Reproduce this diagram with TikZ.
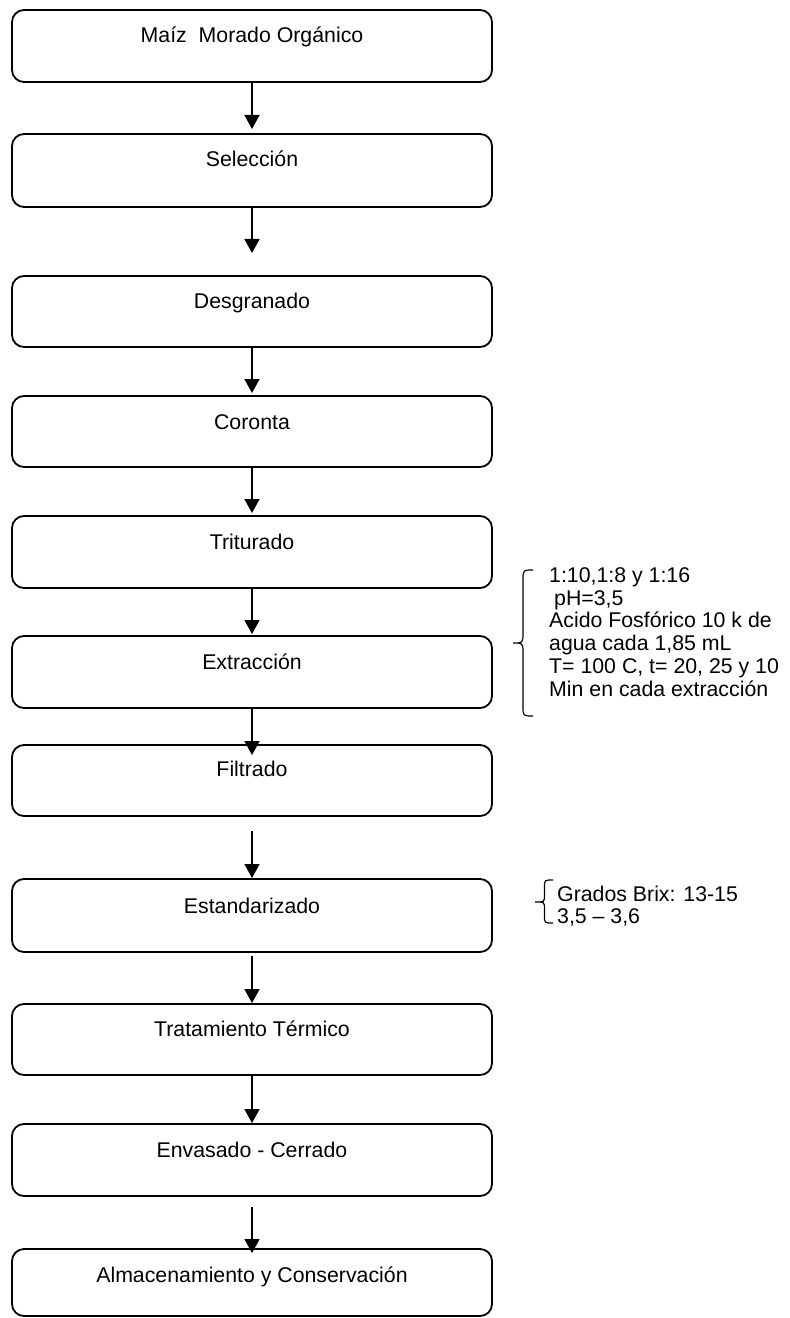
\documentclass[tikz,border=0pt]{standalone}
\usepackage{fontspec}
\setmainfont{Liberation Sans}
\usetikzlibrary{arrows.meta}
\begin{document}
\begin{tikzpicture}[x=1bp,y=-1bp,
  box/.style={draw, line width=1.8bp, rounded corners=12bp, minimum width=480bp, minimum height=72bp, inner sep=0pt, outer sep=0pt},
  lbl/.style={anchor=base, inner sep=0pt, font=\fontsize{21.3bp}{22.7bp}\selectfont},
  note/.style={anchor=base west, inner sep=0pt, font=\fontsize{21.3bp}{22.7bp}\selectfont},
  flow/.style={line width=1.8bp, -{Triangle[length=14bp,width=15bp]}},
  brc/.style={line width=1.2bp}]
\useasboundingbox (0,0) rectangle (789,1318);
% boxes
\node[box] (b1) at (252,46) {};
\node[box, minimum height=73bp] (b2) at (252,170.5) {};
\node[box, minimum height=71bp] (b3) at (252,311.5) {};
\node[box, minimum height=71bp] (b4) at (252,431.5) {};
\node[box] (b5) at (252,552) {};
\node[box] (b6) at (252,672) {};
\node[box, minimum height=71bp] (b7) at (252,780.5) {};
\node[box, minimum height=73bp] (b8) at (252,915.5) {};
\node[box, minimum height=71bp] (b9) at (252,1039.5) {};
\node[box] (b10) at (252,1160) {};
\node[box, minimum height=67bp] (b11) at (252,1282.5) {};
% labels
\node[lbl] (t1) at ([yshift=-33bp]b1.north) {Maíz~ Morado Orgánico};
\node[lbl] (t2) at ([yshift=-33bp]b2.north) {Selección};
\node[lbl] (t3) at ([yshift=-33bp]b3.north) {Desgranado};
\node[lbl] (t4) at ([yshift=-33bp]b4.north) {Coronta};
\node[lbl] (t5) at ([yshift=-33bp]b5.north) {Triturado};
\node[lbl] (t6) at ([yshift=-33bp]b6.north) {Extracción};
\node[lbl] (t7) at ([yshift=-31bp]b7.north) {Filtrado};
\node[lbl] (t8) at ([yshift=-34bp]b8.north) {Estandarizado};
\node[lbl] (t9) at ([yshift=-32bp]b9.north) {Tratamiento Térmico};
\node[lbl] (t10) at ([yshift=-33bp]b10.north) {Envasado - Cerrado};
\node[lbl] (t11) at ([yshift=-33bp]b11.north) {Almacenamiento y Conservación};
% connectors
\draw[flow, shorten >=5bp] (b1.south) -- (b2.north);
\draw[flow, shorten >=23bp] (b2.south) -- (b3.north);
\draw[flow, shorten >=3bp] (b3.south) -- (b4.north);
\draw[flow, shorten >=3bp] (b4.south) -- (b5.north);
\draw[flow, shorten >=2bp] (b5.south) -- (b6.north);
\draw[flow, shorten >=-10bp] (b6.south) -- (b7.north);
\draw[flow, shorten <=15bp, shorten >=1bp] (b7.south) -- (b8.north);
\draw[flow, shorten <=4bp, shorten >=1bp] (b8.south) -- (b9.north);
\draw[flow, shorten >=1bp] (b9.south) -- (b10.north);
\draw[flow, shorten <=11bp, shorten >=-4bp] (b10.south) -- (b11.north);
% note for extraction
\node[note] (n1) at (549,582.5) {\vtop{\hbox{1:10,1:8 y 1:16}\hbox{\kern5bp pH=3,5}\hbox{Acido Fosfórico 10 k de}\hbox{agua cada 1,85 mL}\hbox{T= 100 C, t= 20, 25 y 10}\hbox{Min en cada extracción}}};
\draw[brc] (533,570) .. controls (523,570) .. (523,580) -- (523,633)
  .. controls (523,643) .. (513,643) .. controls (523,643) .. (523,653)
  -- (523,706) .. controls (523,716) .. (533,716);
% note for standardization
\node[note] (n2) at (557,901) {\vtop{\hbox{Grados Brix: 13-15}\hbox{3,5 – 3,6}}};
\draw[brc] (553,880) .. controls (544.5,880) .. (544.5,887) -- (544.5,895)
  .. controls (544.5,902) .. (535,902) .. controls (544.5,902) .. (544.5,909)
  -- (544.5,916) .. controls (544.5,923) .. (553,923);
\end{tikzpicture}
\end{document}
